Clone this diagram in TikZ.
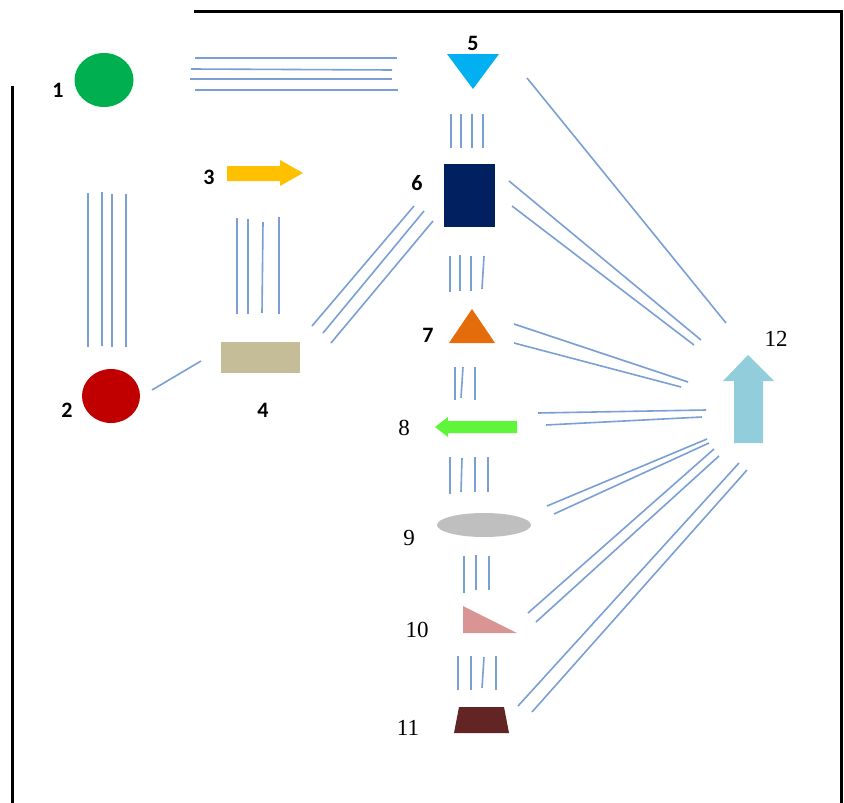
\documentclass[tikz,border=0pt]{standalone}
\usepackage{fontspec}
\usetikzlibrary{shapes.geometric}
\setmainfont{Liberation Serif}
\newfontfamily\calfont{Carlito}
\definecolor{linkblue}{HTML}{7A9FD4}
\definecolor{cgreen}{HTML}{00B050}
\definecolor{cred}{HTML}{C00000}
\definecolor{cyellow}{HTML}{FFC000}
\definecolor{ckhaki}{HTML}{C4BD97}
\definecolor{ccyan}{HTML}{00B0F0}
\definecolor{cnavy}{HTML}{002060}
\definecolor{corange}{HTML}{E46C0A}
\definecolor{clime}{HTML}{5EF53B}
\definecolor{cgray}{HTML}{BFBFBF}
\definecolor{cpink}{HTML}{D99594}
\definecolor{cbrown}{HTML}{632523}
\definecolor{clightblue}{HTML}{92CDDC}
\tikzset{
  link/.style={draw=linkblue, line width=1.6pt},
  frame/.style={draw=black, line width=3pt},
  sanslabel/.style={font=\calfont\bfseries\fontsize{22}{22}\selectfont, text=black, inner sep=0pt},
  seriflabel/.style={font=\fontsize{23}{23}\selectfont, text=black, inner sep=0pt},
  shapefill/.style={draw=none}
}
\begin{document}
\begin{tikzpicture}[x=1pt,y=-1pt]
\useasboundingbox (0,0) rectangle (844,803);

% frame
\draw[frame] (194,11) -- (841,11) -- (841,803);
\draw[frame] (12,86) -- (12,803);

% shapes
\node[shapefill, fill=cgreen, ellipse, minimum width=59pt, minimum height=54pt, inner sep=0pt] (n1) at (104,80) {};
\node[shapefill, fill=cred, ellipse, minimum width=58pt, minimum height=54pt, inner sep=0pt] (n2) at (111,396) {};
\fill[cyellow] (227,166) -- (280,166) -- (280,160) -- (303,173) -- (280,186) -- (280,181) -- (227,181) -- cycle;
\coordinate (n3) at (265,173);
\node[shapefill, fill=ckhaki, rectangle, minimum width=79pt, minimum height=31pt, inner sep=0pt] (n4) at (260.5,357.5) {};
\fill[ccyan] (447,54) -- (499,54) -- (473,89) -- cycle;
\coordinate (n5) at (473,66);
\node[shapefill, fill=cnavy, rectangle, minimum width=51pt, minimum height=63pt, inner sep=0pt] (n6) at (469.5,195.5) {};
\fill[corange] (449,343) -- (495,343) -- (472,309) -- cycle;
\coordinate (n7) at (472,330);
\fill[clime] (435,427) -- (448,417) -- (448,421) -- (517,421) -- (517,433) -- (448,433) -- (448,437) -- cycle;
\coordinate (n8) at (476,427);
\node[shapefill, fill=cgray, ellipse, minimum width=94pt, minimum height=24pt, inner sep=0pt] (n9) at (484,525) {};
\fill[cpink] (463,606) -- (463,633) -- (517,633) -- cycle;
\coordinate (n10) at (480,624);
\fill[cbrown] (459,707) -- (504,707) -- (509,733) -- (454,733) -- cycle;
\coordinate (n11) at (481,720);
\fill[clightblue] (748,355) -- (774,381) -- (763,381) -- (763,443) -- (734,443) -- (734,381) -- (723,381) -- cycle;
\coordinate (n12) at (748,400);

% labels
\node[sanslabel] (l1) at (58,90) {1};
\node[sanslabel] (l2) at (67,410) {2};
\node[sanslabel] (l3) at (209,177) {3};
\node[sanslabel] (l4) at (263,410) {4};
\node[sanslabel] (l5) at (473,43) {5};
\node[sanslabel] (l6) at (417,183) {6};
\node[sanslabel] (l7) at (428,335) {7};
\node[seriflabel] (l8) at (404,428) {8};
\node[seriflabel] (l9) at (409,538) {9};
\node[seriflabel] (l10) at (417,630) {10};
\node[seriflabel] (l11) at (408,728) {11};
\node[seriflabel] (l12) at (776,339) {12};

% 1 -- 5
\draw[link] (195,58) -- (397,58);
\draw[link] (191,69) -- (392,70);
\draw[link] (190,79) -- (392,79);
\draw[link] (195,90) -- (398,90);
% 1 -- 2
\draw[link] (88,193) -- (88,347);
\draw[link] (102,192) -- (102,346);
\draw[link] (112,194) -- (112,347);
\draw[link] (126,194) -- (126,347);
% 3 -- 4
\draw[link] (237,218) -- (237,314);
\draw[link] (248,219) -- (248,314);
\draw[link] (263,222) -- (262,313);
\draw[link] (279,217) -- (279,314);
% 2 -- 4
\draw[link] (152,390) -- (201,361);
% 4 -- 6
\draw[link] (312,326) -- (414,206);
\draw[link] (323,333) -- (424,211);
\draw[link] (331,343) -- (433,221);
% 5 -- 6
\draw[link] (451,114) -- (451,148);
\draw[link] (461,114) -- (461,148);
\draw[link] (472,114) -- (472,148);
\draw[link] (483,114) -- (483,148);
% 6 -- 7
\draw[link] (450,256) -- (450,292);
\draw[link] (460,255) -- (460,291);
\draw[link] (471,256) -- (471,291);
\draw[link] (484,256) -- (482,289);
% 7 -- 8
\draw[link] (455,367) -- (455,400);
\draw[link] (463,367) -- (461,398);
\draw[link] (475,367) -- (475,400);
% 8 -- 9
\draw[link] (450,457) -- (450,494);
\draw[link] (462,458) -- (461,492);
\draw[link] (475,457) -- (475,492);
\draw[link] (488,457) -- (488,492);
% 9 -- 10
\draw[link] (464,556) -- (464,593);
\draw[link] (476,555) -- (476,590);
\draw[link] (489,556) -- (489,590);
% 10 -- 11
\draw[link] (458,656) -- (458,690);
\draw[link] (471,656) -- (471,690);
\draw[link] (484,657) -- (482,688);
\draw[link] (496,656) -- (496,690);
% 5 -- 12
\draw[link] (527,78) -- (726,323);
% 6 -- 12
\draw[link] (509,181) -- (701,340);
\draw[link] (512,206) -- (694,345);
% 7 -- 12
\draw[link] (514,324) -- (688,382);
\draw[link] (514,343) -- (681,387);
% 8 -- 12
\draw[link] (538,413) -- (706,410);
\draw[link] (546,425) -- (702,417);
% 9 -- 12
\draw[link] (547,506) -- (707,439);
\draw[link] (554,514) -- (709,443);
% 10 -- 12
\draw[link] (528,613) -- (714,449);
\draw[link] (536,622) -- (719,456);
% 11 -- 12
\draw[link] (518,706) -- (739,463);
\draw[link] (532,712) -- (747,470);
\end{tikzpicture}
\end{document}
